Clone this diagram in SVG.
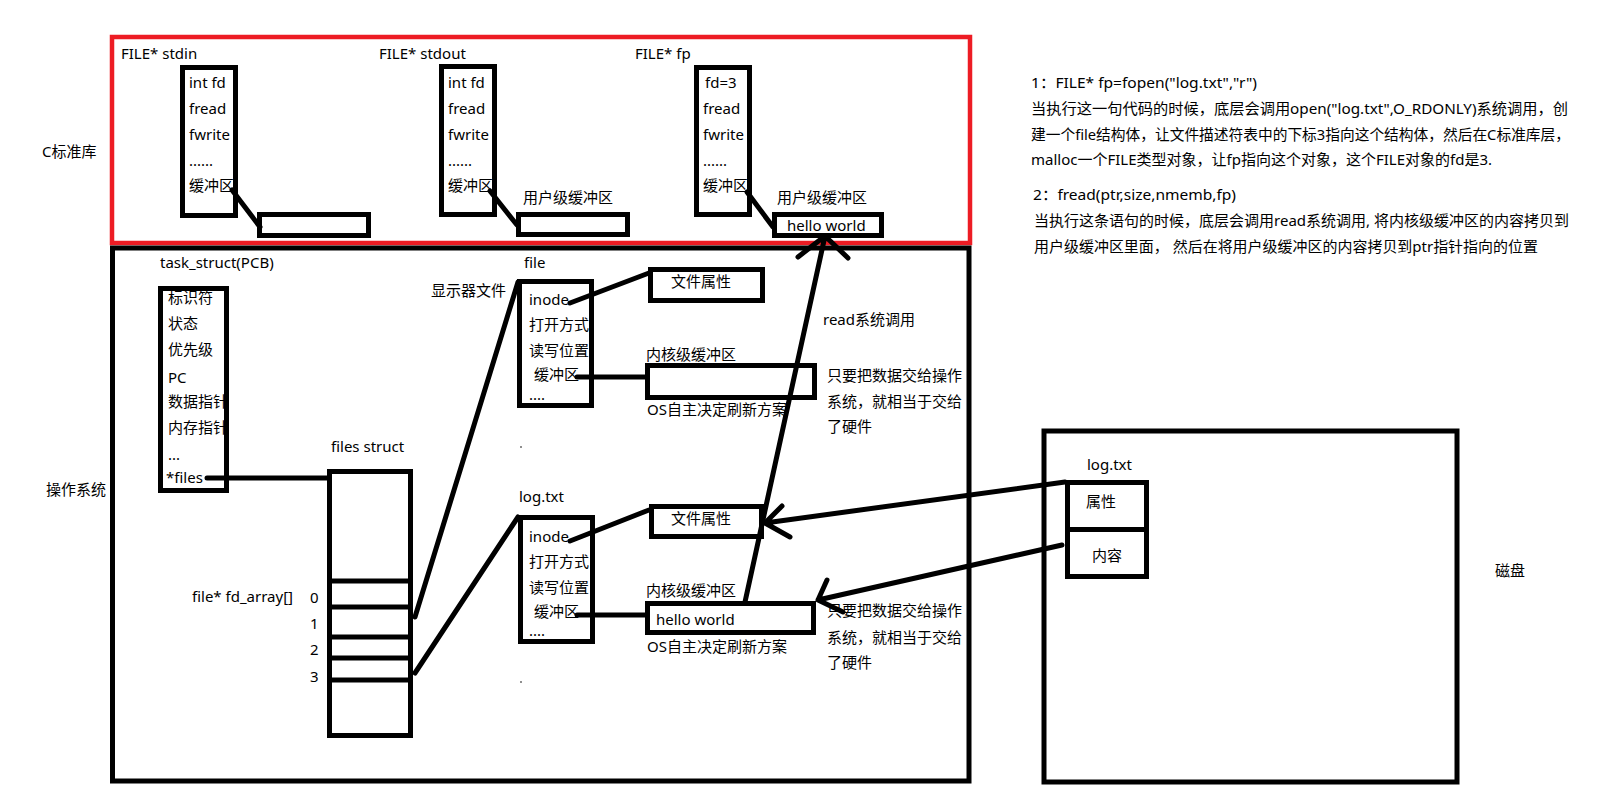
<svg xmlns="http://www.w3.org/2000/svg" width="1618" height="807" viewBox="0 0 1618 807">
<style>
text{font-family:"Noto Sans","Noto Sans CJK SC",sans-serif;font-size:15px;fill:#000}
.box{fill:none;stroke:#000;stroke-width:5}
.ln{fill:none;stroke:#000;stroke-width:5;stroke-linecap:round;stroke-linejoin:round}
</style>
<rect width="1618" height="807" fill="#fff"/>

<g id="layer-labels">
<text x="42" y="157">C标准库</text>
<text x="46" y="495">操作系统</text>
<text x="1495" y="576">磁盘</text>
</g>

<g id="clib">
<rect x="112" y="37" width="858" height="206" fill="none" stroke="#ED1C24" stroke-width="4.5"/>
</g>
<g id="os">
<rect x="112.5" y="248" width="856.5" height="533" class="box"/>
</g>

<g id="stdin">
<text x="121" y="59">FILE* stdin</text>
<text x="189" y="88">int fd</text>
<text x="189" y="114">fread</text>
<text x="189" y="140">fwrite</text>
<text x="189" y="166">......</text>
<text x="189" y="191">缓冲区</text>
<rect x="182.5" y="67.5" width="53" height="148" class="box"/>
</g>
<g id="stdin-buf"><rect x="259.5" y="214.5" width="109" height="21" class="box"/></g>

<g id="stdout">
<text x="379" y="59">FILE* stdout</text>
<text x="448" y="88">int fd</text>
<text x="448" y="114">fread</text>
<text x="448" y="140">fwrite</text>
<text x="448" y="166">......</text>
<text x="448" y="191">缓冲区</text>
<rect x="441.5" y="66.5" width="53" height="148" class="box"/>
</g>
<g id="stdout-buf">
<text x="523" y="203">用户级缓冲区</text>
<rect x="518.5" y="214.5" width="109" height="20" class="box"/>
</g>

<g id="fp">
<text x="635" y="59">FILE* fp</text>
<text x="705" y="88">fd=3</text>
<text x="703" y="114">fread</text>
<text x="703" y="140">fwrite</text>
<text x="703" y="166">......</text>
<text x="703" y="191">缓冲区</text>
<rect x="696.5" y="67.5" width="53" height="147" class="box"/>
</g>
<g id="fp-buf">
<text x="777" y="203">用户级缓冲区</text>
<text x="787" y="231">hello world</text>
<rect x="774.5" y="214.5" width="107" height="21" class="box"/>
</g>

<g id="notes">
<text x="1031" y="88" textLength="226" lengthAdjust="spacingAndGlyphs">1：FILE* fp=fopen("log.txt","r")</text>
<text x="1031" y="114" textLength="537" lengthAdjust="spacingAndGlyphs">当执行这一句代码的时候，底层会调用open("log.txt",O_RDONLY)系统调用，创</text>
<text x="1031" y="140" textLength="539" lengthAdjust="spacingAndGlyphs">建一个file结构体，让文件描述符表中的下标3指向这个结构体，然后在C标准库层，</text>
<text x="1031" y="165" textLength="461" lengthAdjust="spacingAndGlyphs">malloc一个FILE类型对象，让fp指向这个对象，这个FILE对象的fd是3.</text>
<text x="1033" y="200" textLength="203" lengthAdjust="spacingAndGlyphs">2：fread(ptr,size,nmemb,fp)</text>
<text x="1034" y="226" textLength="535" lengthAdjust="spacingAndGlyphs">当执行这条语句的时候，底层会调用read系统调用, 将内核级缓冲区的内容拷贝到</text>
<text x="1034" y="252" textLength="504" lengthAdjust="spacingAndGlyphs">用户级缓冲区里面， 然后在将用户级缓冲区的内容拷贝到ptr指针指向的位置</text>
</g>

<g id="pcb">
<text x="160" y="268">task_struct(PCB)</text>
<text x="168" y="303">标识符</text>
<text x="168" y="329">状态</text>
<text x="168" y="355">优先级</text>
<text x="168" y="383">PC</text>
<text x="168" y="407">数据指针</text>
<text x="168" y="433">内存指针</text>
<text x="168" y="460">...</text>
<text x="166" y="483">*files</text>
<rect x="160.5" y="288.5" width="66" height="202" fill="none" stroke="#000" stroke-width="5"/>
</g>

<g id="files-struct">
<text x="331" y="452">files  struct</text>
<text x="192" y="602">file* fd_array[]</text>
<text x="310" y="603">0</text>
<text x="310" y="629">1</text>
<text x="310" y="655">2</text>
<text x="310" y="682">3</text>
<rect x="329.5" y="471.5" width="81" height="264" class="box"/>
<path d="M329.5 581H413M329.5 607H413M329.5 637H413M329.5 658H413M329.5 680H413" class="box"/>
</g>

<g id="file-display">
<text x="524" y="268">file</text>
<text x="431" y="296">显示器文件</text>
<text x="529" y="305">inode</text>
<text x="529" y="330">打开方式</text>
<text x="529" y="356">读写位置</text>
<text x="534" y="380">缓冲区</text>
<text x="529" y="400">....</text>
<rect x="519.5" y="281.5" width="72" height="124" class="box"/>
</g>
<g id="attr1">
<text x="671" y="287">文件属性</text>
<rect x="650.5" y="269.5" width="112" height="31" class="box"/>
</g>
<g id="kbuf1">
<text x="646" y="360">内核级缓冲区</text>
<text x="647" y="415">OS自主决定刷新方案</text>
<rect x="647.5" y="365.5" width="167" height="32" class="box"/>
</g>
<g id="note1">
<text x="823" y="325">read系统调用</text>
<text x="827" y="381">只要把数据交给操作</text>
<text x="827" y="407">系统，就相当于交给</text>
<text x="827" y="432">了硬件</text>
</g>

<g id="file-log">
<text x="519" y="502">log.txt</text>
<text x="529" y="542">inode</text>
<text x="529" y="567">打开方式</text>
<text x="529" y="593">读写位置</text>
<text x="534" y="617">缓冲区</text>
<text x="529" y="636">....</text>
<rect x="520.5" y="517.5" width="72" height="124" class="box"/>
</g>
<g id="attr2">
<text x="671" y="524">文件属性</text>
<rect x="651.5" y="506.5" width="110" height="30" class="box"/>
</g>
<g id="kbuf2">
<text x="646" y="596">内核级缓冲区</text>
<text x="656" y="625">hello world</text>
<text x="647" y="652">OS自主决定刷新方案</text>
<rect x="647.5" y="603.5" width="166" height="29" class="box"/>
</g>
<g id="note2">
<text x="827" y="616">只要把数据交给操作</text>
<text x="827" y="643">系统，就相当于交给</text>
<text x="827" y="668">了硬件</text>
</g>

<g id="disk">
<rect x="1044" y="431" width="413" height="351" class="box"/>
<text x="1087" y="470">log.txt</text>
<text x="1086" y="507">属性</text>
<text x="1092" y="561">内容</text>
<rect x="1067.5" y="482.5" width="79" height="94" class="box"/>
<path d="M1067.5 529.5H1146.5" class="box"/>
</g>

<g id="dots">
<circle cx="521" cy="447" r="0.8" fill="#000"/>
<circle cx="521" cy="682" r="0.8" fill="#000"/>
</g>

<g id="connectors">
<path d="M232 190L260 227" class="ln"/>
<path d="M490 191L517 225" class="ln"/>
<path d="M747 192L773 227" class="ln"/>
<path d="M207 478H328" class="ln"/>
<path d="M415 617L518 282" class="ln"/>
<path d="M415 673L518 517" class="ln"/>
<path d="M570 303L649 273" class="ln"/>
<path d="M577 377H647" class="ln"/>
<path d="M570 541L649 510" class="ln"/>
<path d="M577 615H646" class="ln"/>
<path d="M745 602L825 236M798 257L825 236L848 258" class="ln"/>
<path d="M1065 482L765 523M782 506L765 523L790 537" class="ln"/>
<path d="M1062 545L818 600M827 580L818 600L843 612" class="ln"/>
</g>
</svg>
